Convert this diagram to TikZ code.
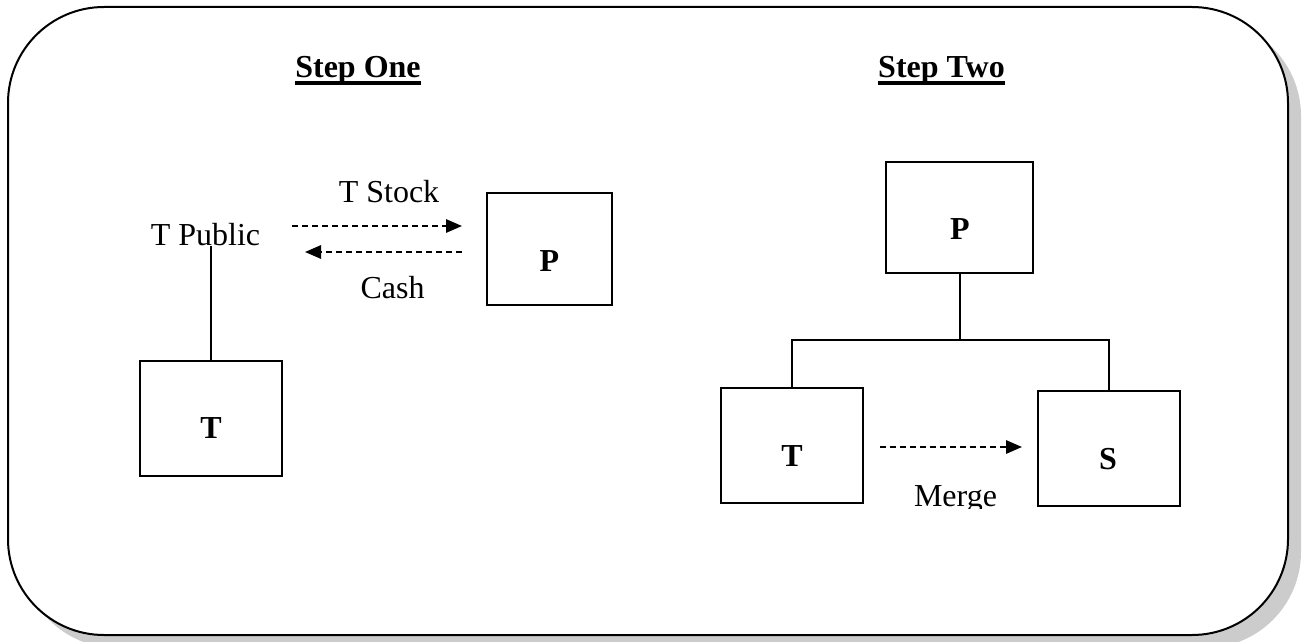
\documentclass[tikz,border=0pt]{standalone}
\usepackage{fontspec}
\setmainfont{Liberation Serif}
\usetikzlibrary{arrows.meta}
\begin{document}
\begin{tikzpicture}[x=0.75pt,y=-0.75pt,
  txt/.style={inner sep=0pt, font=\fontsize{24}{28}\selectfont},
  bold/.style={txt, font=\fontsize{24}{28}\selectfont\bfseries},
  entity/.style={draw, line width=1.5pt, inner sep=0pt, minimum width=#1},
  entity/.default={142*0.75pt},
  link/.style={line width=1.5pt},
  flow/.style={line width=1.5pt, dash pattern=on 4.5pt off 3pt,
    -{Triangle[length=12pt,width=10pt]}},
  uline/.style={line width=2.6pt}
]
\clip (0,0) rectangle (1306,642);
% frame with shadow
\fill[gray!40, rounded corners=72pt] (21,20) rectangle (1301,648);
\draw[line width=1.5pt, fill=white, rounded corners=72pt] (8,7) rectangle (1288,635);

% headings
\node[bold, anchor=base] (stepone) at (358,78) {Step One};
\draw[uline] ([yshift=-3.75pt]stepone.base west) -- ([yshift=-3.75pt]stepone.base east);
\node[bold, anchor=base] (steptwo) at (941.5,78) {Step Two};
\draw[uline] ([yshift=-3.75pt]steptwo.base west) -- ([yshift=-3.75pt]steptwo.base east);

% step one
\node[txt, anchor=base] (tpublic) at (205.5,245) {T Public};
\node[entity, minimum height=115*0.75pt] (t1) at (211,418.5) {};
\node[bold, anchor=base] (t1l) at (211,438) {T};
\draw[link] (t1.north) -- (t1.north |- tpublic.south);

\node[entity=125*0.75pt, minimum height=112*0.75pt] (p1) at (549.5,249) {};
\node[bold, anchor=base] (p1l) at (549.5,271) {P};

\node[txt, anchor=base] (tstock) at (389,202) {T Stock};
\node[txt, anchor=base] (cash) at (392.5,298) {Cash};
\coordinate (a1s) at (292,226);
\coordinate (a1e) at (462,226);
\coordinate (a2s) at (462,252);
\coordinate (a2e) at (305,252);
\draw[flow] (a1s) -- (a1e);
\draw[flow] (a2s) -- (a2e);

% step two
\node[entity=147*0.75pt, minimum height=111*0.75pt] (p2) at (959.5,217.5) {};
\node[bold, anchor=base] (p2l) at (960,239) {P};
\node[entity, minimum height=115*0.75pt] (t2) at (792,445.5) {};
\node[bold, anchor=base] (t2l) at (792,466) {T};
\node[entity, minimum height=115*0.75pt] (s2) at (1109,448.5) {};
\node[bold, anchor=base] (s2l) at (1108,469) {S};
\coordinate (j) at (959.5,340);
\draw[link] (p2.south) -- (j);
\draw[link] (t2.north) |- (j) -| (s2.north);

\coordinate (ms) at (880,447);
\coordinate (me) at (1022,447);
\draw[flow] (ms) -- (me);
\begin{scope}
  \clip (860,470) rectangle (1030,508);
  \node[txt, anchor=base] (merge) at (955.5,506) {Merge};
\end{scope}
\end{tikzpicture}
\end{document}
